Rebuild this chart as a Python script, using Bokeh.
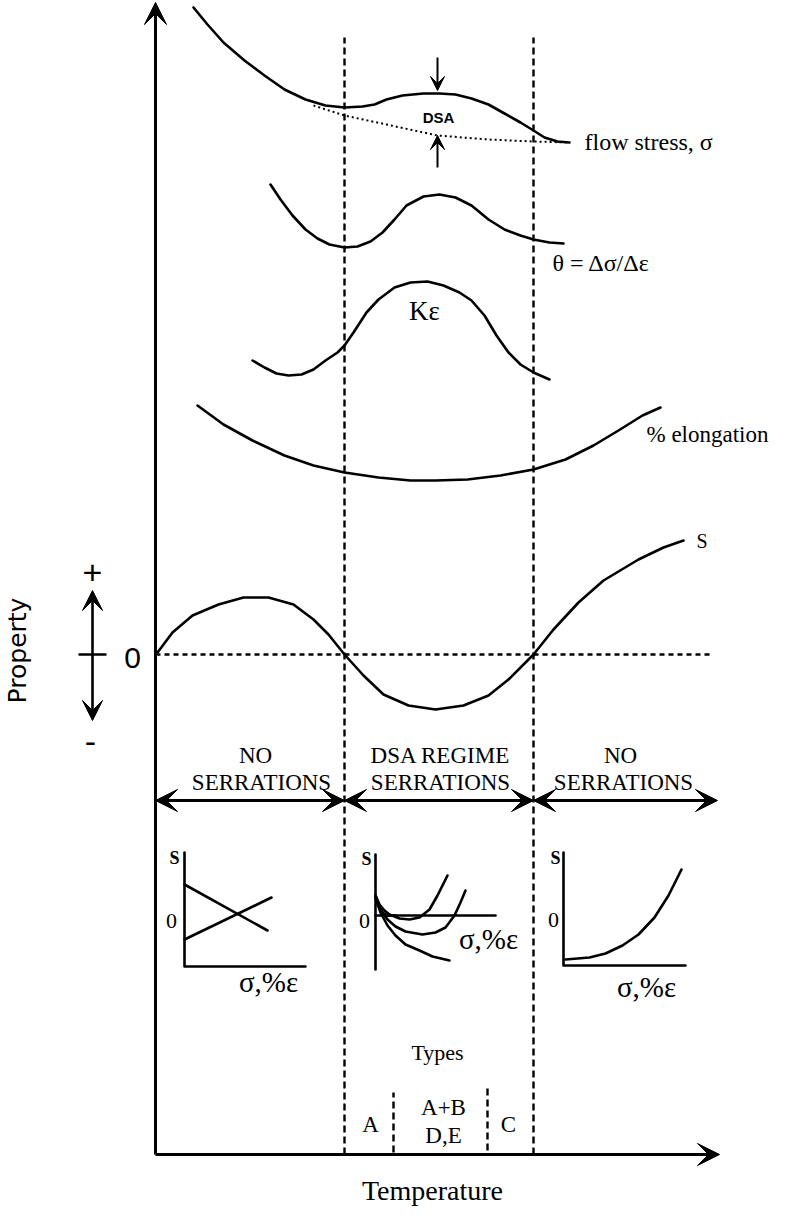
import math
from bokeh.plotting import figure
from bokeh.models import Range1d, Arrow, VeeHead, ColumnDataSource
from bokeh.core.properties import value
from bokeh.embed import file_html
from bokeh.resources import INLINE

# ---------------- data (schematic units: x = temperature, y = property) ----------------
T_LOW, T_HIGH = 189, 378          # DSA regime boundaries
ZERO_S = 500                      # zero level of S

fs_x = [38, 52, 68, 89, 109, 129, 150, 170, 189, 207, 219, 231, 247, 268, 284, 300, 316, 333, 349, 365, 378, 389, 402, 414]
fs_y = [1147, 1130, 1112, 1094, 1079, 1065, 1055, 1049, 1047, 1048, 1050, 1055, 1059, 1061, 1061, 1060, 1056, 1050, 1041, 1032, 1024, 1017, 1013, 1012]
base_x = [158, 189, 231, 282, 333, 378, 414]
base_y = [1049, 1039, 1030, 1019, 1015, 1013, 1012]

theta_x = [115, 125, 137, 150, 162, 174, 189, 202, 215, 227, 239, 251, 268, 284, 300, 316, 333, 349, 365, 378, 394, 408]
theta_y = [970, 955, 939, 925, 916, 910, 907, 908, 913, 922, 935, 949, 958, 960, 957, 949, 935, 925, 919, 915, 912, 911]

ke_x = [97, 109, 121, 133, 146, 158, 170, 182, 189, 198, 211, 223, 239, 255, 272, 288, 304, 316, 329, 341, 353, 365, 378, 394]
ke_y = [794, 787, 781, 779, 780, 785, 794, 802, 809, 822, 842, 855, 867, 872, 873, 869, 862, 854, 839, 819, 802, 790, 782, 775]

el_x = [42, 68, 97, 129, 158, 189, 223, 255, 280, 312, 345, 378, 410, 438, 463, 487, 505]
el_y = [749, 730, 714, 699, 689, 682, 677, 674, 674, 675, 679, 685, 695, 709, 724, 739, 747]

s_x = [2, 17, 37, 63, 88, 113, 138, 158, 173, 189, 208, 228, 253, 280, 308, 333, 353, 378, 398, 423, 448, 483, 508, 528]
s_y = [502, 522, 539, 550, 557, 557, 550, 535, 520, 500, 479, 460, 449, 445, 449, 459, 475, 500, 525, 552, 574, 595, 607, 614]

# inset sketches (S vs sigma, %eps)
in1_a_x, in1_a_y = [29, 112], [270, 224]
in1_b_x, in1_b_y = [29, 116], [215, 257]
in2_a_x = [220, 224, 229, 234, 244, 254, 264, 274, 282, 292]
in2_a_y = [259, 250, 244, 240, 236, 235, 237, 245, 259, 279]
in2_b_x = [220, 225, 232, 240, 250, 267, 280, 290, 299, 305, 310]
in2_b_y = [259, 245, 235, 228, 223, 220, 222, 227, 239, 252, 264]
in2_c_x = [220, 225, 232, 240, 250, 264, 277, 294]
in2_c_y = [257, 242, 229, 219, 210, 204, 198, 194]
in2_d_x = [220, 223, 227, 232, 240]
in2_d_y = [259, 249, 242, 239, 239]
in3_x = [410, 422, 434, 450, 467, 483, 499, 513, 526]
in3_y = [195, 196, 197, 201, 209, 220, 237, 259, 285]

regime_labels_top = ["NO", "DSA REGIME", "NO"]
regime_labels_bot = ["SERRATIONS", "SERRATIONS", "SERRATIONS"]
type_labels = ["A", "A+B", "D,E", "C"]

# ---------------- figure ----------------
W, H = 773, 1209
p = figure(width=W, height=H, x_range=Range1d(-155, 618), y_range=Range1d(-55, 1154),
           output_backend="svg", toolbar_location=None, min_border=0,
           x_axis_type=None, y_axis_type=None)
p.outline_line_color = None
p.grid.visible = False
p.background_fill_color = "white"

LW = 2.6
K = "black"
SERIF = value("Liberation Serif")
SANS = value("Liberation Sans")

def head(sz=16):
    return VeeHead(size=sz, fill_color=K, line_color=K, line_width=1)

def curve(xs, ys, w=LW, dash="solid"):
    p.line(xs, ys, line_color=K, line_width=w, line_dash=dash, line_join="round", line_cap="round")

# main axes
p.add_layout(Arrow(end=head(22), x_start=0, y_start=0, x_end=0, y_end=1152, line_width=3, line_color=K))
p.add_layout(Arrow(end=head(22), x_start=0, y_start=0, x_end=564, y_end=0, line_width=3, line_color=K))

# regime boundaries
p.segment(x0=[T_LOW, T_HIGH], y0=[0, 0], x1=[T_LOW, T_HIGH], y1=[1117, 1117],
          line_color=K, line_width=2.4, line_dash="7 4")
# type sub-boundaries
p.segment(x0=[238, 332], y0=[2, 4], x1=[238, 332], y1=[62, 66],
          line_color=K, line_width=2.4, line_dash="7 4")

# curves
curve(fs_x, fs_y)
p.line(base_x, base_y, line_color=K, line_width=2, line_dash="2 3")
curve(theta_x, theta_y)
curve(ke_x, ke_y)
curve(el_x, el_y)
curve(s_x, s_y)
p.line([0, 557], [ZERO_S, ZERO_S], line_color=K, line_width=2.4, line_dash="5 4")

# DSA arrows
p.add_layout(Arrow(end=head(14), x_start=282, y_start=1097, x_end=282, y_end=1064, line_width=2, line_color=K))
p.add_layout(Arrow(end=head(14), x_start=282, y_start=987, x_end=282, y_end=1019, line_width=2, line_color=K))

# property sign arrow
p.add_layout(Arrow(start=head(20), end=head(20), x_start=-63, y_start=434, x_end=-63, y_end=564,
                   line_width=LW, line_color=K))
p.segment(x0=[-77], y0=[ZERO_S], x1=[-49], y1=[ZERO_S], line_color=K, line_width=LW)

# regime arrows
for xs, xe in [(0, T_LOW), (T_LOW, T_HIGH), (T_HIGH, 562)]:
    p.add_layout(Arrow(start=head(22), end=head(22), x_start=xs, y_start=354, x_end=xe, y_end=354,
                       line_width=3, line_color=K))

# insets
curve([29, 29, 150], [302, 188, 188])
curve(in1_a_x, in1_a_y)
curve(in1_b_x, in1_b_y)
curve([220, 220], [300, 185])
curve([220, 340], [239, 239])
for xs, ys in [(in2_a_x, in2_a_y), (in2_b_x, in2_b_y), (in2_c_x, in2_c_y), (in2_d_x, in2_d_y)]:
    curve(xs, ys)
curve([408, 408, 530], [302, 189, 189])
curve(in3_x, in3_y)

# ---------------- texts ----------------
def txt(x, y, t, size, font=SERIF, align="left", style="normal", angle=0.0):
    src = ColumnDataSource(dict(x=x, y=y, t=t))
    p.text(x="x", y="y", text="t", source=src, text_font=font, text_font_size=value(size),
           text_align=align, text_baseline="middle", text_font_style=style, angle=angle,
           text_color=K)

txt([429], [1013], ["flow stress, σ"], "24px")
txt([397], [892], ["θ = Δσ/Δε"], "24px")
txt([269], [844], ["Kε"], "27px", align="center")
txt([491], [720], ["% elongation"], "23px")
txt([541], [614], ["S"], "20px")
txt([283], [1037], ["DSA"], "15px", font=SANS, align="center", style="bold")

txt([-138], [504], ["Property"], "25px", font=value("DejaVu Sans"), align="center", angle=math.pi / 2)
txt([-63, -65], [582, 413], ["+", "-"], "34px", font=SANS, align="center")
txt([-23], [497], ["0"], "30px", font=SANS, align="center")

txt([100, 285, 465], [399, 399, 399], regime_labels_top, "23px", align="center")
txt([106, 285, 468], [372, 372, 372], regime_labels_bot, "23px", align="center")

txt([19, 211, 400], [297, 296, 297], ["S", "S", "S"], "18px", align="center", style="bold")
txt([16, 209, 398], [234, 234, 235], ["0", "0", "0"], "22px", align="center")
txt([113, 333, 491], [173, 216, 168], ["σ,%ε", "σ,%ε", "σ,%ε"], "29px", align="center")

txt([282], [102], ["Types"], "22px", align="center")
txt([215, 288, 288, 353], [30, 47, 19, 30], type_labels, "23px", align="center")
txt([277], [-36], ["Temperature"], "28px", align="center")

open("out.html", "w").write(file_html(p, INLINE))
